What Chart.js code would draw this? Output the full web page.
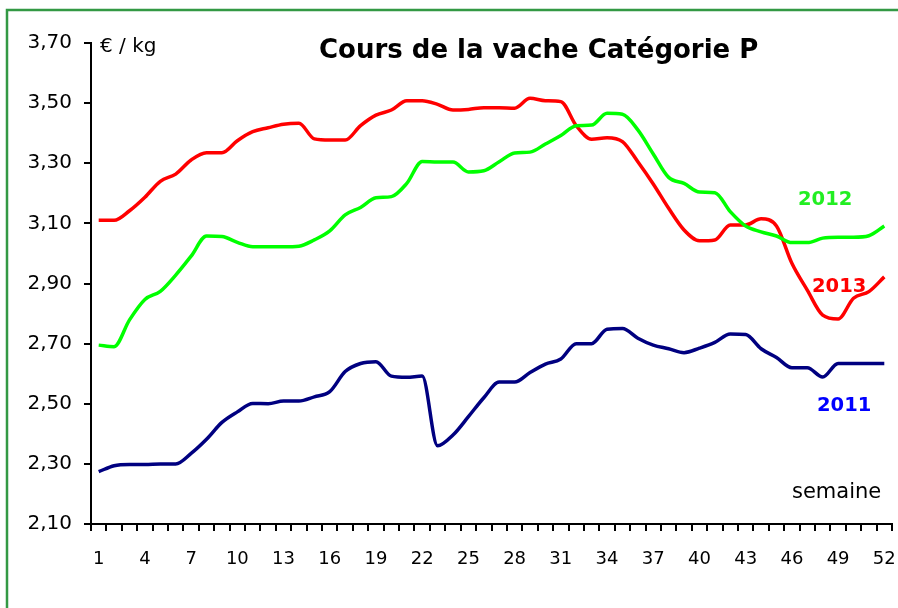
<!DOCTYPE html>
<html>
<head>
<meta charset="utf-8">
<script src="https://cdn.jsdelivr.net/npm/chart.js@4.4.0/dist/chart.umd.min.js"></script>
<style>
  html, body { margin: 0; padding: 0; background: #fff; }
  #chart { display: block; }
</style>
</head>
<body>
<canvas id="chart" width="898" height="608"></canvas>
<script>
const weeks = [1, 2, 3, 4, 5, 6, 7, 8, 9, 10, 11, 12, 13, 14, 15, 16, 17, 18, 19, 20,
  21, 22, 23, 24, 25, 26, 27, 28, 29, 30, 31, 32, 33, 34, 35, 36, 37, 38, 39, 40,
  41, 42, 43, 44, 45, 46, 47, 48, 49, 50, 51, 52];

const prices2011 = [2.274, 2.294, 2.298, 2.298, 2.30, 2.30, 2.335, 2.382, 2.438, 2.473,
  2.501, 2.50, 2.509, 2.509, 2.523, 2.54, 2.607, 2.634, 2.64, 2.592,
  2.588, 2.592, 2.36, 2.396, 2.457, 2.52, 2.572, 2.572, 2.604, 2.632,
  2.649, 2.70, 2.70, 2.748, 2.75, 2.718, 2.695, 2.683, 2.67, 2.685,
  2.704, 2.732, 2.73, 2.683, 2.654, 2.62, 2.62, 2.589, 2.634, 2.634,
  2.634, 2.634];

const prices2012 = [2.695, 2.69, 2.779, 2.847, 2.874, 2.928, 2.991, 3.058, 3.056, 3.037,
  3.022, 3.022, 3.022, 3.024, 3.045, 3.075, 3.128, 3.153, 3.185, 3.189,
  3.233, 3.306, 3.304, 3.304, 3.271, 3.275, 3.305, 3.334, 3.337, 3.364,
  3.392, 3.425, 3.427, 3.466, 3.463, 3.411, 3.331, 3.253, 3.233, 3.204,
  3.202, 3.139, 3.091, 3.072, 3.058, 3.036, 3.036, 3.051, 3.054, 3.054,
  3.059, 3.091];

const prices2013 = [3.11, 3.11, 3.142, 3.187, 3.24, 3.264, 3.311, 3.335, 3.335, 3.375,
  3.405, 3.418, 3.43, 3.433, 3.381, 3.377, 3.377, 3.425, 3.46, 3.477,
  3.508, 3.508, 3.496, 3.477, 3.479, 3.485, 3.485, 3.483, 3.516, 3.508,
  3.505, 3.425, 3.38, 3.385, 3.372, 3.305, 3.231, 3.15, 3.078, 3.042,
  3.045, 3.095, 3.095, 3.115, 3.091, 2.967, 2.878, 2.795, 2.782, 2.851,
  2.873, 2.922];

const yTicks = [2.10, 2.30, 2.50, 2.70, 2.90, 3.10, 3.30, 3.50, 3.70];

const FONT = "'DejaVu Sans', Verdana, sans-serif";

// texts drawn on top of the chart: title, units, series names, frame
const overlayPlugin = {
  id: "overlay",
  afterDraw(chart) {
    const ctx = chart.ctx;
    ctx.save();

    ctx.strokeStyle = "#339944";
    ctx.lineWidth = 2.5;
    ctx.beginPath();
    ctx.moveTo(7, 608);
    ctx.lineTo(7, 10);
    ctx.lineTo(898, 10);
    ctx.stroke();

    ctx.textAlign = "left";
    ctx.textBaseline = "alphabetic";

    ctx.fillStyle = "#000";
    ctx.font = "bold 26px " + FONT;
    ctx.fillText("Cours de la vache Catégorie P", 319, 58);

    ctx.font = "20px " + FONT;
    ctx.fillText("€ / kg", 100, 52);

    ctx.font = "21px " + FONT;
    ctx.fillText("semaine", 792, 498);

    ctx.font = "bold 19.5px " + FONT;
    ctx.fillStyle = "#22ee22";
    ctx.fillText("2012", 798, 205);
    ctx.fillStyle = "#ff0000";
    ctx.fillText("2013", 812, 292);
    ctx.fillStyle = "#0000ff";
    ctx.fillText("2011", 817, 411);

    ctx.restore();
  },
};

const lineStyle = {
  borderWidth: 3.5,
  pointRadius: 0,
  cubicInterpolationMode: "monotone",
  fill: false,
};

new Chart(document.getElementById("chart"), {
  type: "line",
  data: {
    labels: weeks,
    datasets: [
      { label: "2011", data: prices2011, borderColor: "#000080", ...lineStyle },
      { label: "2012", data: prices2012, borderColor: "#00ff00", ...lineStyle },
      { label: "2013", data: prices2013, borderColor: "#ff0000", ...lineStyle },
    ],
  },
  options: {
    responsive: false,
    animation: false,
    devicePixelRatio: 1,
    layout: { padding: { top: 43, right: 6, left: 0, bottom: 0 } },
    plugins: {
      legend: { display: false },
      tooltip: { enabled: false },
      title: { display: false },
    },
    scales: {
      x: {
        type: "category",
        offset: true,
        grid: {
          offset: true,
          drawOnChartArea: false,
          drawTicks: true,
          tickLength: 7,
          color: "#000",
          lineWidth: 2,
        },
        border: { display: true, color: "#000", width: 2 },
        ticks: {
          autoSkip: false,
          maxRotation: 0,
          color: "#000",
          padding: 18,
          font: { family: FONT, size: 18 },
          callback: (value, index) => (index % 3 === 0 ? weeks[index] : ""),
        },
        afterFit: (scale) => {
          scale.height = 84;
          scale.paddingLeft = 0;
          scale.paddingRight = 0;
        },
      },
      y: {
        min: 2.1,
        max: 3.7,
        afterBuildTicks: (scale) => {
          scale.ticks = yTicks.map((v) => ({ value: v }));
        },
        grid: {
          drawOnChartArea: false,
          drawTicks: true,
          tickLength: 7,
          color: "#000",
          lineWidth: 2,
        },
        border: { display: true, color: "#000", width: 2 },
        ticks: {
          color: "#000",
          padding: 12,
          font: { family: FONT, size: 20 },
          callback: (value) => value.toFixed(2).replace(".", ","),
        },
        afterFit: (scale) => {
          scale.width = 91;
          scale.paddingTop = 0;
          scale.paddingBottom = 0;
        },
      },
    },
  },
  plugins: [overlayPlugin],
});
</script>
</body>
</html>
